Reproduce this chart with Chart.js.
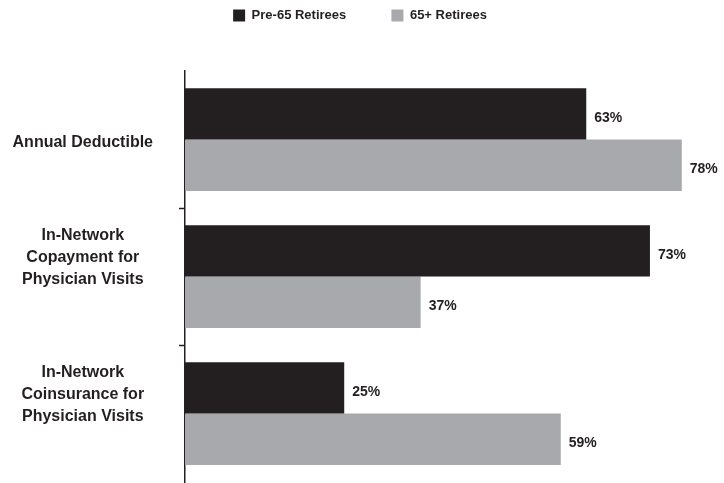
<!DOCTYPE html>
<html>
<head>
<meta charset="utf-8">
<script src="https://cdn.jsdelivr.net/npm/chart.js@4"></script>
<style>
  html, body { margin: 0; padding: 0; background: #fff; }
  #wrap { width: 724px; height: 483px; position: relative; }
</style>
</head>
<body>
<div id="wrap"><canvas id="grafica"></canvas></div>
<script>
// Datos de la gráfica
var categoryLines = [
    ['Annual Deductible'],
    ['In-Network', 'Copayment for', 'Physician Visits'],
    ['In-Network', 'Coinsurance for', 'Physician Visits']
];
var seriesNames = ['Pre-65 Retirees', '65+ Retirees'];
var valuesPre65 = [63, 73, 25];
var values65Plus = [78, 37, 59];

var darkColor = '#231f20';
var grayColor = '#a7a9ac';

// Etiquetas con el valor al final de cada barra
var barLabels = {
    id: 'barLabels',
    afterDatasetsDraw: function (chart) {
        var ctx = chart.ctx;
        ctx.save();
        ctx.font = 'bold 14px "Liberation Sans", Arial, sans-serif';
        ctx.fillStyle = darkColor;
        ctx.textAlign = 'left';
        ctx.textBaseline = 'middle';
        chart.data.datasets.forEach(function (ds, i) {
            chart.getDatasetMeta(i).data.forEach(function (el, j) {
                ctx.fillText(ds.data[j] + '%', el.x + 8, el.y + 4);
            });
        });
        ctx.restore();
    }
};

var context = document.getElementById('grafica').getContext('2d');

var chart = new Chart(context, {
    type: 'bar',
    data: {
        labels: categoryLines.map(function (l) { return l.join(' '); }),
        datasets: [{
            label: seriesNames[0],
            data: valuesPre65,
            backgroundColor: darkColor,
            borderWidth: 0,
            categoryPercentage: 0.75,
            barPercentage: 1
        }, {
            label: seriesNames[1],
            data: values65Plus,
            backgroundColor: grayColor,
            borderWidth: 0,
            categoryPercentage: 0.75,
            barPercentage: 1
        }]
    },
    options: {
        indexAxis: 'y',
        responsive: true,
        maintainAspectRatio: false,
        animation: false,
        layout: { padding: { left: 0, right: 4, top: 0, bottom: 1 } },
        plugins: {
            legend: {
                position: 'top',
                labels: {
                    boxWidth: 12,
                    boxHeight: 12,
                    padding: 9,
                    color: darkColor,
                    font: { family: '"Liberation Sans", Arial, sans-serif', size: 13, weight: 'bold' },
                    generateLabels: function (chart) {
                        var items = Chart.defaults.plugins.legend.labels.generateLabels(chart);
                        items[0].text = items[0].text + '          ';
                        return items;
                    }
                }
            },
            // espacio entre la leyenda y el área de la gráfica
            title: {
                display: true,
                text: '',
                weight: 100,
                padding: 0,
                font: { size: 32.5 }
            },
            tooltip: { enabled: false }
        },
        scales: {
            x: {
                display: false,
                min: 0,
                max: 84
            },
            y: {
                afterFit: function (scale) {
                    scale.width = 185;
                    scale.paddingTop = 0;
                    scale.paddingBottom = 0;
                },
                border: { display: true, color: darkColor, width: 1.5 },
                grid: {
                    offset: true,
                    drawOnChartArea: false,
                    drawTicks: true,
                    tickLength: 6,
                    tickWidth: 1.5,
                    tickColor: function (c) {
                        return (c.index === 1 || c.index === 2) ? darkColor : 'rgba(0,0,0,0)';
                    }
                },
                ticks: {
                    crossAlign: 'center',
                    padding: 26,
                    labelOffset: -8,
                    color: darkColor,
                    font: { family: '"Liberation Sans", Arial, sans-serif', size: 16, weight: 'bold', lineHeight: 1.375 },
                    callback: function (value, index) {
                        var lines = categoryLines[index];
                        return lines.length === 1 ? ['', lines[0]] : lines.concat(['']);
                    }
                }
            }
        }
    },
    plugins: [barLabels]
});
</script>
</body>
</html>
